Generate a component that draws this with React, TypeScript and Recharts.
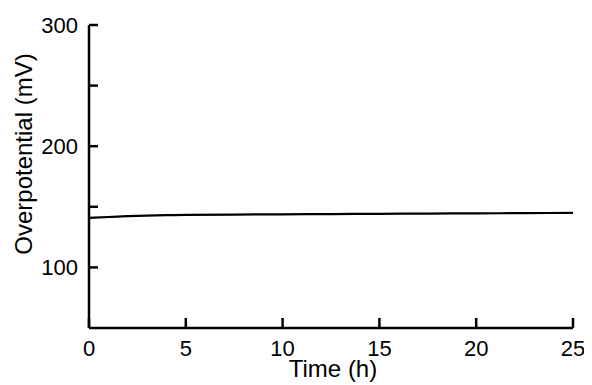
import { LineChart, Line, XAxis, YAxis, Label } from "recharts";

const hours = [0, 1, 2, 3, 4, 5, 7.5, 10, 12.5, 15, 17.5, 20, 22.5, 25];
const overpotential = [140.8, 141.6, 142.3, 142.8, 143.1, 143.3, 143.6, 143.8, 144.0, 144.2, 144.4, 144.6, 144.8, 145.0];
const xTicks = [0, 5, 10, 15, 20, 25];
const yTicks = [100, 150, 200, 250, 300];
const yLabelled = [100, 200, 300];

const data = hours.map((t, i) => ({ t, v: overpotential[i] }));

const FONT = "'Liberation Sans', Arial, sans-serif";
const tickStyle = { fontSize: 22, fontFamily: FONT, fill: "#000" };
const axisLine = { stroke: "#000", strokeWidth: 2.5 };
const tickLine = { stroke: "#000", strokeWidth: 2.5 };

export default function App() {
  return (
    <div style={{ marginLeft: -8, marginTop: -8, background: "#fff", width: 592, height: 385 }}>
      <LineChart width={592} height={385} data={data} margin={{ top: 25, right: 19, bottom: 0, left: 0 }}>
        <XAxis
          dataKey="t"
          type="number"
          domain={[0, 25]}
          ticks={xTicks}
          tickSize={-10}
          tickMargin={22}
          tick={tickStyle}
          fontSize={22}
          tickLine={tickLine}
          axisLine={axisLine}
          height={57}
        >
          <Label
            content={(p: any) => (
              <text
                x={p.viewBox.x + p.viewBox.width / 2 + 2}
                y={377}
                textAnchor="middle"
                fontSize={24}
                fontFamily={FONT}
                fill="#000"
              >
                Time (h)
              </text>
            )}
          />
        </XAxis>
        <XAxis
          xAxisId="top"
          dataKey="t"
          type="number"
          domain={[0, 25]}
          orientation="top"
          tick={false}
          tickLine={false}
          axisLine={axisLine}
          height={0}
        />
        <YAxis
          type="number"
          domain={[50, 300]}
          ticks={yTicks}
          tickSize={-9}
          tickMargin={20}
          tick={tickStyle}
          fontSize={22}
          tickFormatter={(v: number) => (yLabelled.includes(v) ? String(v) : "")}
          tickLine={tickLine}
          axisLine={axisLine}
          width={89}
        >
          <Label
            content={() => {
              const cx = 23;
              const cy = 154;
              return (
                <text
                  x={cx}
                  y={cy}
                  transform={`rotate(-90 ${cx} ${cy})`}
                  textAnchor="middle"
                  dominantBaseline="central"
                  fontSize={24}
                  fontFamily={FONT}
                  fill="#000"
                >
                  Overpotential (mV)
                </text>
              );
            }}
          />
        </YAxis>
        <YAxis
          yAxisId="right"
          orientation="right"
          type="number"
          domain={[50, 300]}
          tick={false}
          tickLine={false}
          axisLine={axisLine}
          width={0}
        />
        <Line
          dataKey="v"
          type="monotone"
          stroke="#000"
          strokeWidth={2.2}
          dot={false}
          isAnimationActive={false}
        />
      </LineChart>
    </div>
  );
}
